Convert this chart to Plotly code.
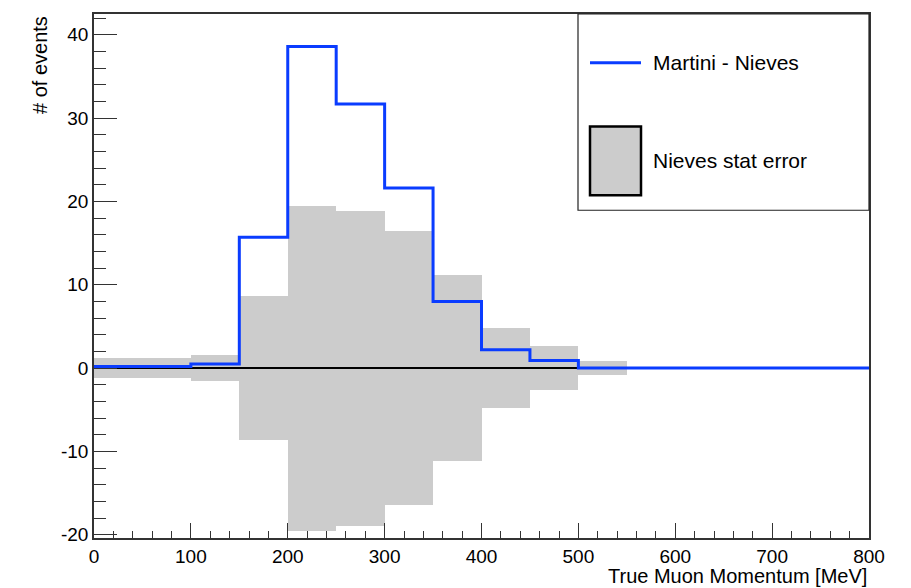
import plotly.graph_objects as go

# ---- data ----
bin_edges = [0, 50, 100, 150, 200, 250, 300, 350, 400, 450, 500, 550, 600, 650, 700, 750, 800]
martini_minus_nieves = [0.2, 0.2, 0.5, 15.7, 38.6, 31.7, 21.6, 8.0, 2.2, 0.9, 0.0, 0.0, 0.0, 0.0, 0.0, 0.0]
nieves_stat_error = [1.2, 1.2, 1.6, 8.6, 19.5, 18.9, 16.4, 11.2, 4.8, 2.6, 0.8, 0.1, 0.0, 0.0, 0.0, 0.0]
zero_line_x = [0, 500]
zero_line_y = [0, 0]
x_tick_vals = [0, 100, 200, 300, 400, 500, 600, 700, 800]
x_tick_text = ["0", "100", "200", "300", "400", "500", "600", "700", "800"]
y_tick_vals = [-20, -10, 0, 10, 20, 30, 40]
y_tick_text = ["-20", "-10", "0", "10", "20", "30", "40"]

FONT = "Liberation Sans, Arial, Helvetica, sans-serif"
BLUE = "#0a3cff"
GRAY = "#cccccc"

centers = [(bin_edges[i] + bin_edges[i + 1]) / 2 for i in range(len(bin_edges) - 1)]
widths = [bin_edges[i + 1] - bin_edges[i] for i in range(len(bin_edges) - 1)]

fig = go.Figure()

fig.add_trace(go.Bar(
    x=centers, y=[2 * e for e in nieves_stat_error], base=[-e for e in nieves_stat_error],
    width=widths, marker=dict(color=GRAY, line=dict(width=0)), showlegend=False,
    hoverinfo="skip"))

fig.add_trace(go.Scatter(
    x=zero_line_x, y=zero_line_y, mode="lines",
    line=dict(color="black", width=2), showlegend=False, hoverinfo="skip"))

fig.add_trace(go.Scatter(
    x=bin_edges, y=martini_minus_nieves + [martini_minus_nieves[-1]],
    mode="lines", line=dict(color=BLUE, width=3, shape="hv"), showlegend=False))

L, R, T, B = 94, 42, 12, 50
W, H = 911, 588
pw, ph = W - L - R, H - T - B

def px(xpix):
    return (xpix - L) / pw

def py(ypix):
    return (H - B - ypix) / ph

shapes = [
    # legend box
    dict(type="rect", xref="paper", yref="paper", x0=px(578), x1=1.0, y0=py(209), y1=1.0,
         line=dict(color="#222222", width=1.2), fillcolor="white", layer="above"),
    # legend line sample
    dict(type="line", xref="paper", yref="paper", x0=px(590), x1=px(641), y0=py(61), y1=py(61),
         line=dict(color=BLUE, width=3), layer="above"),
    # legend box sample
    dict(type="rect", xref="paper", yref="paper", x0=px(590), x1=px(641), y0=py(194), y1=py(125),
         line=dict(color="black", width=2.5), fillcolor=GRAY, layer="above"),
]

annotations = [
    dict(text="Martini - Nieves", xref="paper", yref="paper", x=px(651), y=py(61),
         xanchor="left", yanchor="middle", showarrow=False,
         font=dict(family=FONT, size=21, color="black")),
    dict(text="Nieves stat error", xref="paper", yref="paper", x=px(651), y=py(159),
         xanchor="left", yanchor="middle", showarrow=False,
         font=dict(family=FONT, size=21, color="black")),
    dict(text="True Muon Momentum [MeV]", xref="paper", yref="paper", x=1.0, y=py(563),
         xanchor="right", yanchor="top", showarrow=False,
         font=dict(family=FONT, size=20, color="black")),
    dict(text="# of events", xref="paper", yref="paper", x=px(40), y=1.0, textangle=-90,
         xanchor="center", yanchor="top", showarrow=False,
         font=dict(family=FONT, size=20, color="black")),
]

fig.update_layout(
    width=W, height=H,
    margin=dict(l=L, r=R, t=T, b=B),
    paper_bgcolor="white", plot_bgcolor="white",
    bargap=0, showlegend=False,
    shapes=shapes, annotations=annotations,
    font=dict(family=FONT, color="black"),
)

fig.update_xaxes(
    range=[0, 800], showgrid=False, zeroline=False,
    showline=True, linecolor="#333333", linewidth=1.5, mirror=True,
    ticks="inside", ticklen=15, tickwidth=1.3, tickcolor="#333333",
    tickvals=x_tick_vals, ticktext=x_tick_text,
    tickfont=dict(family=FONT, size=19, color="black"),
    minor=dict(ticks="inside", ticklen=7, dtick=20, tickcolor="#333333", tickwidth=1.2, showgrid=False),
)
fig.update_yaxes(
    range=[-20.4, 42.5], showgrid=False, zeroline=False,
    showline=True, linecolor="#333333", linewidth=1.5, mirror=True,
    ticks="inside", ticklen=23, tickwidth=1.3, tickcolor="#333333",
    tickvals=y_tick_vals, ticktext=y_tick_text,
    tickfont=dict(family=FONT, size=19, color="black"),
    minor=dict(ticks="inside", ticklen=12, dtick=2, tickcolor="#333333", tickwidth=1.2, showgrid=False),
)

fig.write_html("out.html")
